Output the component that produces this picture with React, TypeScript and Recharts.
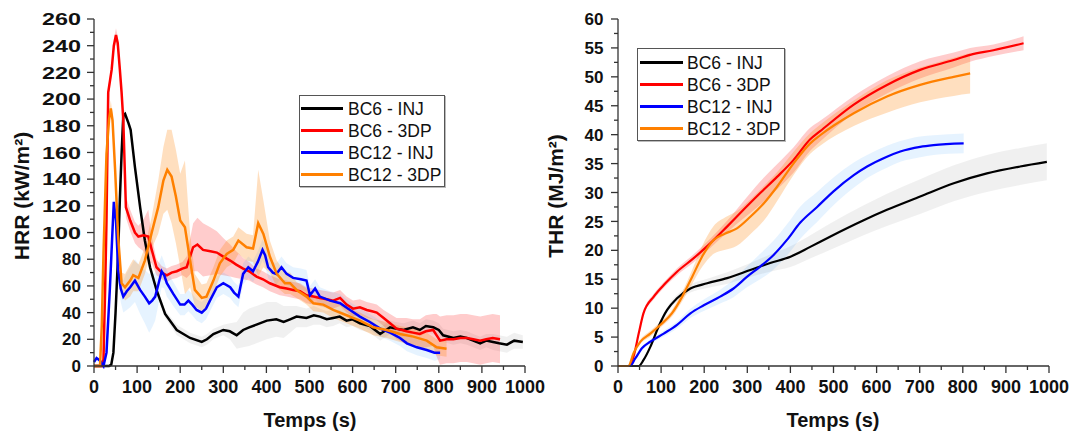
import { ComposedChart, Line, Area, XAxis, YAxis } from "recharts"

const FONT = '"Liberation Sans", Arial, Helvetica, sans-serif'
const AXIS = "#333"

const seriesNames = ["BC6 - INJ", "BC6 - 3DP", "BC12 - INJ", "BC12 - 3DP"]
const seriesColors = ["#000000", "#ff0000", "#0000ff", "#ff8000"]
const bandColors = ["#000000", "#ff0000", "#3399ff", "#ff8000"]
const bandOpacity = [0.06, 0.2, 0.12, 0.25]

const timeTicks = [0, 50, 100, 150, 200, 250, 300, 350, 400, 450, 500, 550, 600, 650, 700, 750, 800, 850, 900, 950, 1000]
const hrrTicks = [0, 10, 20, 30, 40, 50, 60, 70, 80, 90, 100, 110, 120, 130, 140, 150, 160, 170, 180, 190, 200, 210, 220, 230, 240, 250, 260]
const thrTicks = [0, 2.5, 5, 7.5, 10, 12.5, 15, 17.5, 20, 22.5, 25, 27.5, 30, 32.5, 35, 37.5, 40, 42.5, 45, 47.5, 50, 52.5, 55, 57.5, 60]

// HRR (kW/m²) -- time, mean, spread
const hrrBc6InjT = [0, 35, 40, 45, 50, 56, 60, 64, 68, 72, 80, 85, 95, 107, 118, 130, 145, 165, 192, 223, 250, 262, 277, 300, 315, 331, 346, 360, 377, 401, 423, 440, 455, 470, 493, 510, 524, 540, 555, 570, 586, 600, 617, 640, 664, 687, 700, 718, 740, 756, 770, 787, 800, 810, 834, 850, 865, 880, 896, 910, 926, 940, 958, 975, 995]
const hrrBc6InjV = [0, 0, 1, 10, 40, 84, 125, 159, 188, 189, 182, 177, 149, 119, 94, 74, 57, 39, 27, 21, 18, 20, 24, 27, 26, 23, 27, 29, 31, 34, 35, 33, 35, 37, 36, 38, 37, 35, 36, 37, 34, 35, 32, 30, 24, 29, 28, 27, 29, 27, 30, 29, 27, 23, 21, 22, 21, 19, 17, 19, 18, 17, 16, 19, 18]
const hrrBc6InjS = [0, 0, 1, 2, 3, 3, 3, 3, 3, 3, 3, 3, 3, 3, 3, 3, 3, 3, 4, 4, 4, 4, 4, 4, 6, 10, 13, 14, 14, 14, 13, 12, 10, 8, 7, 7, 6, 6, 6, 5, 5, 5, 5, 5, 5, 5, 5, 5, 5, 5, 5, 5, 5, 5, 5, 5, 5, 5, 5, 5, 6, 6, 6, 6, 5]

const hrrBc63dpT = [0, 18, 22, 26, 29, 33, 41, 46, 51, 55, 60, 64, 68, 74, 84, 95, 103, 115, 126, 134, 145, 157, 169, 180, 192, 205, 215, 230, 240, 253, 270, 285, 300, 316, 330, 346, 360, 377, 392, 408, 431, 447, 462, 478, 493, 509, 524, 540, 555, 571, 586, 601, 617, 633, 645, 656, 672, 687, 702, 715, 725, 740, 756, 770, 787, 795, 803, 818, 834, 850, 865, 880, 896, 910, 925, 942]
const hrrBc63dpV = [0, 0, 5, 60, 109, 205, 222, 240, 248, 242, 222, 205, 184, 119, 109, 100, 97, 98, 97, 87, 74, 70, 68, 70, 71, 73, 74, 89, 91, 87, 86, 85, 82, 79, 76, 73, 71, 67, 65, 62, 59, 58, 57, 56, 53, 52, 51, 50, 49, 51, 46, 43, 44, 42, 41, 40, 36, 32, 28, 27, 26, 25, 24, 26, 27, 23, 19, 20, 20, 21, 21, 20, 19, 20, 21, 20]
const hrrBc63dpS = [0, 0, 2, 3, 4, 4, 4, 5, 5, 5, 5, 5, 5, 8, 8, 8, 8, 12, 20, 10, 6, 5, 5, 5, 5, 5, 8, 18, 20, 20, 18, 16, 14, 12, 10, 8, 7, 6, 6, 6, 6, 6, 6, 6, 6, 6, 6, 6, 6, 6, 6, 6, 6, 6, 6, 6, 6, 7, 8, 9, 10, 10, 11, 12, 12, 16, 18, 18, 18, 18, 18, 18, 18, 18, 18, 18]

const hrrBc12InjT = [0, 6, 14, 22, 29, 37, 42, 46, 51, 56, 62, 68, 76, 84, 95, 107, 118, 128, 135, 142, 150, 157, 163, 169, 184, 200, 210, 219, 228, 238, 250, 260, 269, 285, 300, 316, 325, 335, 346, 358, 369, 380, 391, 397, 404, 415, 423, 435, 447, 462, 480, 493, 501, 513, 524, 548, 571, 594, 617, 640, 664, 687, 710, 726, 749, 772, 790, 803]
const hrrBc12InjV = [3, 6, 4, 0, 10, 59, 95, 123, 109, 72, 58, 52, 56, 59, 64, 57, 52, 47, 49, 52, 62, 71, 68, 62, 54, 46, 46, 49, 46, 42, 40, 43, 49, 59, 62, 59, 55, 52, 69, 74, 71, 78, 87, 83, 74, 70, 69, 74, 69, 66, 65, 64, 53, 58, 52, 49, 47, 42, 37, 33, 28, 25, 21, 17, 14, 12, 10, 10]
const hrrBc12InjS = [1, 1, 1, 0, 2, 4, 5, 5, 6, 8, 10, 12, 14, 15, 16, 18, 20, 22, 20, 18, 15, 12, 10, 10, 9, 8, 8, 8, 8, 8, 8, 8, 8, 8, 8, 8, 8, 8, 8, 8, 8, 8, 8, 8, 8, 8, 8, 8, 8, 8, 8, 8, 7, 7, 7, 7, 7, 6, 6, 6, 6, 6, 6, 6, 6, 6, 6, 5]

const hrrBc123dpT = [0, 14, 18, 22, 29, 35, 39, 43, 49, 56, 64, 72, 84, 91, 103, 118, 134, 149, 161, 170, 180, 190, 200, 211, 223, 234, 250, 261, 277, 292, 308, 323, 335, 354, 369, 381, 393, 408, 424, 443, 455, 470, 493, 509, 532, 555, 586, 617, 648, 679, 710, 741, 772, 795, 818]
const hrrBc123dpV = [0, 0, 30, 84, 159, 185, 193, 184, 147, 97, 62, 59, 64, 68, 66, 79, 100, 119, 139, 147, 142, 127, 109, 104, 79, 57, 51, 52, 64, 77, 84, 87, 94, 89, 88, 107, 99, 82, 69, 62, 62, 57, 52, 47, 46, 42, 38, 34, 29, 27, 24, 22, 19, 14, 13]
const hrrBc123dpS = [0, 0, 3, 4, 5, 5, 6, 5, 5, 5, 8, 10, 12, 12, 10, 10, 12, 20, 25, 30, 35, 35, 35, 50, 20, 12, 10, 10, 10, 10, 10, 10, 10, 10, 10, 40, 25, 12, 10, 8, 8, 6, 6, 6, 6, 6, 6, 6, 6, 6, 6, 6, 6, 6, 6]

// THR (MJ/m²) -- time, mean, spread
const thrBc6InjT = [0, 48, 59, 75, 94, 114, 137, 168, 207, 253, 307, 353, 400, 446, 493, 570, 624, 701, 779, 856, 933, 995]
const thrBc6InjV = [0, 0, 1, 3.3, 6.8, 9.7, 11.7, 13.4, 14.3, 15.2, 16.6, 17.8, 18.9, 20.6, 22.4, 25.2, 27, 29.3, 31.6, 33.3, 34.5, 35.3]
const thrBc6InjS = [0, 0, 0.2, 0.3, 0.4, 0.5, 0.6, 0.7, 0.8, 1, 1.2, 1.5, 1.8, 2, 2.3, 2.6, 2.8, 3, 3.1, 3.2, 3.2, 3.2]

const thrBc63dpT = [0, 24, 36, 48, 59, 83, 110, 137, 175, 214, 253, 291, 330, 369, 407, 446, 469, 547, 624, 701, 779, 817, 871, 941]
const thrBc63dpV = [0, 0, 1.6, 5.6, 9.1, 12, 14.3, 16.3, 18.6, 21.2, 24.1, 27, 29.9, 32.7, 35.6, 39.2, 40.6, 45.2, 48.6, 51.2, 52.9, 53.8, 54.6, 55.8]
const thrBc63dpS = [0, 0, 0.2, 0.3, 0.4, 0.5, 0.5, 0.6, 0.7, 0.8, 1, 1.5, 2, 2.2, 2.2, 2, 1.8, 1.5, 1.5, 1.5, 1.3, 1.2, 1, 1.2]

const thrBc12InjT = [0, 28, 40, 56, 75, 106, 137, 168, 199, 237, 268, 299, 330, 361, 392, 423, 462, 500, 547, 578, 624, 655, 701, 732, 802]
const thrBc12InjV = [0, 0, 1.3, 3.1, 4.2, 5.6, 7.1, 9.1, 10.5, 12, 13.4, 15.4, 17.2, 19.2, 21.8, 24.8, 27.5, 30.2, 33, 34.5, 36.2, 37.1, 37.9, 38.2, 38.5]
const thrBc12InjS = [0, 0, 0.2, 0.3, 0.4, 0.5, 0.6, 0.8, 1, 1.2, 1.5, 1.8, 2.2, 2.5, 2.7, 2.8, 2.6, 2.4, 2.2, 2, 1.9, 1.8, 1.8, 1.7, 1.7]

const thrBc123dpT = [0, 24, 36, 52, 75, 98, 125, 149, 172, 195, 222, 249, 276, 307, 338, 369, 407, 446, 469, 547, 624, 701, 779, 817]
const thrBc123dpV = [0, 0, 2.2, 4.2, 5.6, 7.1, 9.1, 12, 15.4, 18.9, 21.8, 22.9, 23.8, 25.8, 28.1, 31, 35, 38.5, 39.9, 43.7, 46.6, 48.6, 50, 50.6]
const thrBc123dpS = [0, 0, 0.3, 0.4, 0.5, 0.5, 0.6, 0.8, 1.2, 1.8, 2.4, 2.8, 3, 3, 3, 2.5, 2, 1.8, 1.8, 2.2, 2.8, 3, 3.3, 3.5]

type Row = { t: number; v: number; band: [number, number] }

const build = (t: number[], v: number[], s: number[]): Row[] =>
  t.map((x, i) => ({ t: x, v: v[i], band: [Math.max(0, v[i] - s[i]), v[i] + s[i]] }))

const hrrSeries = [
  build(hrrBc6InjT, hrrBc6InjV, hrrBc6InjS),
  build(hrrBc63dpT, hrrBc63dpV, hrrBc63dpS),
  build(hrrBc12InjT, hrrBc12InjV, hrrBc12InjS),
  build(hrrBc123dpT, hrrBc123dpV, hrrBc123dpS),
]
const thrSeries = [
  build(thrBc6InjT, thrBc6InjV, thrBc6InjS),
  build(thrBc63dpT, thrBc63dpV, thrBc63dpS),
  build(thrBc12InjT, thrBc12InjV, thrBc12InjS),
  build(thrBc123dpT, thrBc123dpV, thrBc123dpS),
]

function XTick(props: any) {
  const { x, y, payload } = props
  const major = payload.value % 100 === 0
  return (
    <g>
      <line x1={x} x2={x} y1={y} y2={y + (major ? 7 : 4)} stroke={AXIS} strokeWidth={1.3} />
      {major && (
        <text x={x} y={y + 27} textAnchor="middle" fontFamily={FONT} fontSize={18} fontWeight="bold" fill="#111">
          {payload.value}
        </text>
      )}
    </g>
  )
}

function makeYTick(step: number, gap: number, stretch: boolean) {
  return function YTick(props: any) {
    const { x, y, payload } = props
    const val = payload.value
    const major = Math.abs(val / step - Math.round(val / step)) < 1e-6
    const label = String(val)
    return (
      <g>
        <line x1={x - (major ? 7 : 4)} x2={x} y1={y} y2={y} stroke={AXIS} strokeWidth={1.3} />
        {major && (
          <text
            x={x - gap}
            y={y}
            dy="0.36em"
            textAnchor="end"
            fontFamily={FONT}
            fontSize={17}
            fontWeight="bold"
            fill="#111"
            textLength={stretch && label.length === 3 ? 39 : undefined}
            lengthAdjust={stretch && label.length === 3 ? "spacingAndGlyphs" : undefined}
          >
            {label}
          </text>
        )}
      </g>
    )
  }
}

function Panel(props: {
  series: Row[][]
  width: number
  margin: { top: number; right: number; bottom: number; left: number }
  yMax: number
  yTicks: number[]
  tick: any
  lineWidth: number
  curve: "linear" | "monotone"
}) {
  const { series, width, margin, yMax, yTicks, tick, lineWidth, curve } = props
  return (
    <ComposedChart width={width} height={434} margin={margin}>
      <XAxis
        dataKey="t"
        type="number"
        domain={[0, 1000]}
        ticks={timeTicks}
        interval={0}
        height={40}
        tickSize={0}
        tickMargin={0}
        tickLine={false}
        tick={XTick}
        axisLine={{ stroke: AXIS, strokeWidth: 1.3 }}
      />
      <YAxis
        type="number"
        domain={[0, yMax]}
        ticks={yTicks}
        interval={0}
        width={60}
        tickSize={0}
        tickMargin={0}
        tickLine={false}
        tick={tick}
        axisLine={{ stroke: AXIS, strokeWidth: 1.3 }}
      />
      {series.flatMap((rows, i) => [
        <Area
          key={`band-${i}`}
          data={rows}
          dataKey="band"
          type={curve}
          stroke="none"
          fill={bandColors[i]}
          fillOpacity={bandOpacity[i]}
          dot={false}
          activeDot={false}
          isAnimationActive={false}
        />,
        <Line
          key={`line-${i}`}
          data={rows}
          dataKey="v"
          type={curve}
          stroke={seriesColors[i]}
          strokeWidth={lineWidth}
          dot={false}
          activeDot={false}
          isAnimationActive={false}
        />,
      ])}
    </ComposedChart>
  )
}

function LegendBox({ left, top, width, height, lineX, lineW, textX, rowTop }: {
  left: number; top: number; width: number; height: number; lineX: number; lineW: number; textX: number; rowTop: number
}) {
  return (
    <div
      style={{
        position: "absolute",
        left,
        top,
        width,
        height,
        boxSizing: "border-box",
        border: "1px solid #555",
        boxShadow: "1px 1px 0 #bbb",
        background: "#fff",
        fontFamily: FONT,
        fontSize: 17.5,
        color: "#111",
      }}
    >
      {seriesNames.map((name, i) => (
        <div key={name} style={{ position: "absolute", left: 0, top: rowTop + i * 22 - 11, height: 22, width: "100%" }}>
          <div style={{ position: "absolute", left: lineX, top: 9.5, width: lineW, height: 3, background: seriesColors[i] }} />
          <div style={{ position: "absolute", left: textX, top: 0, lineHeight: "22px", whiteSpace: "nowrap" }}>{name}</div>
        </div>
      ))}
    </div>
  )
}

const axisTitle: any = {
  position: "absolute",
  fontFamily: FONT,
  fontWeight: "bold",
  color: "#111",
  whiteSpace: "nowrap",
}

export default function App() {
  return (
    <div style={{ position: "absolute", left: 0, top: 0, width: 1072, height: 434, background: "#fff", overflow: "hidden" }}>
      <div style={{ position: "absolute", left: 0, top: 0 }}>
        <Panel
          series={hrrSeries}
          width={560}
          margin={{ top: 19, right: 35, bottom: 28, left: 34 }}
          yMax={260}
          yTicks={hrrTicks}
          tick={makeYTick(20, 13, true)}
          lineWidth={2.5}
          curve="linear"
        />
      </div>
      <div style={{ position: "absolute", left: 540, top: 0 }}>
        <Panel
          series={thrSeries}
          width={532}
          margin={{ top: 19, right: 23, bottom: 28, left: 18 }}
          yMax={60}
          yTicks={thrTicks}
          tick={makeYTick(5, 14.5, false)}
          lineWidth={2.2}
          curve="monotone"
        />
      </div>

      <div style={{ ...axisTitle, left: 22, top: 196, fontSize: 21, transform: "translate(-50%, -50%) rotate(-90deg)" }}>
        HRR (kW/m²)
      </div>
      <div style={{ ...axisTitle, left: 556, top: 196, fontSize: 21, transform: "translate(-50%, -50%) rotate(-90deg)" }}>
        THR (MJ/m²)
      </div>
      <div style={{ ...axisTitle, left: 310, top: 420, fontSize: 20, transform: "translate(-50%, -50%)" }}>Temps (s)</div>
      <div style={{ ...axisTitle, left: 833, top: 420, fontSize: 20, transform: "translate(-50%, -50%)" }}>Temps (s)</div>

      <LegendBox left={299} top={95} width={146} height={92} lineX={1} lineW={42} textX={48} rowTop={12.7} />
      <LegendBox left={637} top={48} width={148} height={93} lineX={2} lineW={43} textX={49} rowTop={13.7} />
    </div>
  )
}
